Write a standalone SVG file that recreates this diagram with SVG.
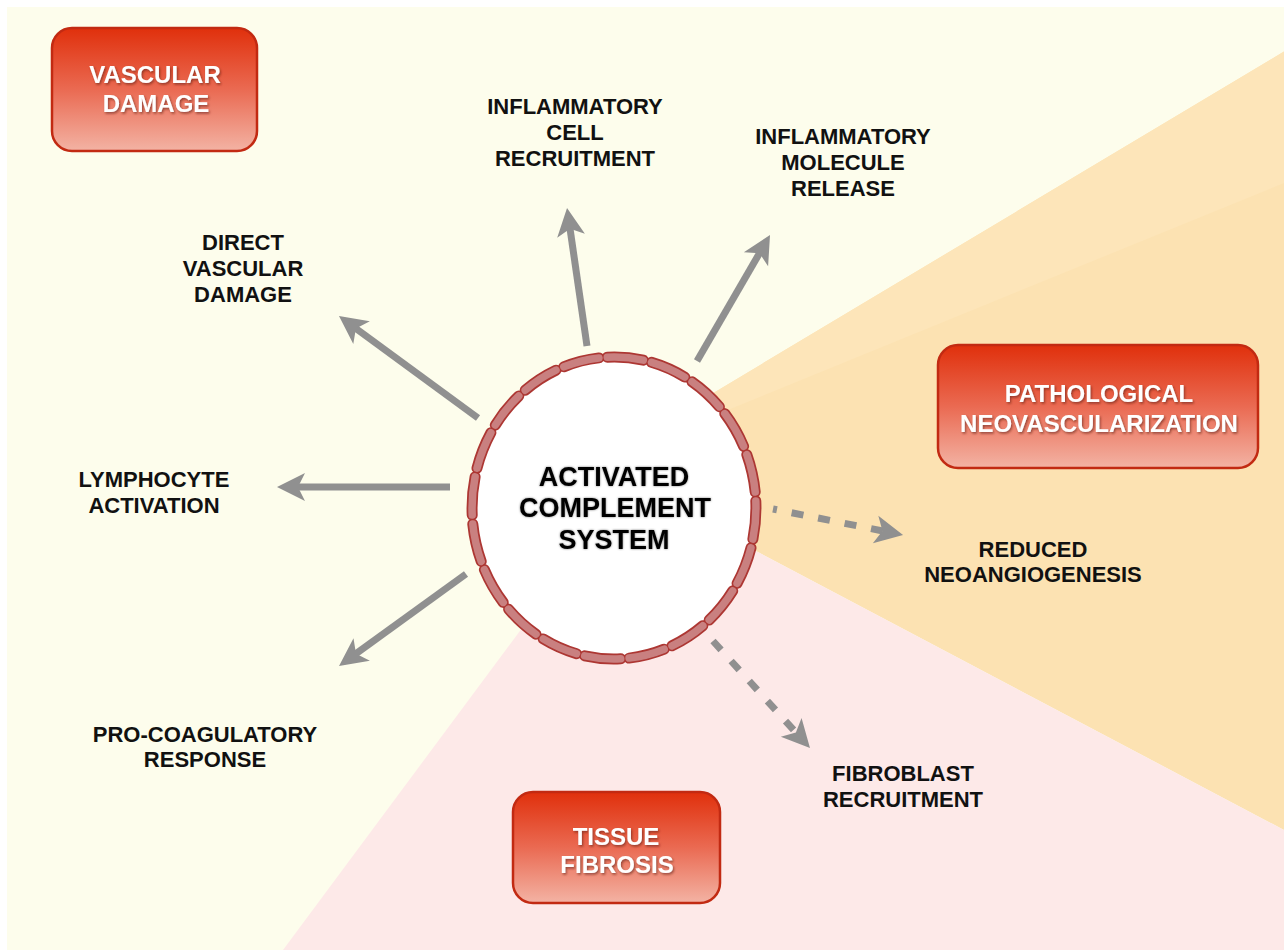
<svg xmlns="http://www.w3.org/2000/svg" width="1284" height="950" viewBox="0 0 1284 950">
<style>
.lbl{font-family:"Liberation Sans",Arial,sans-serif;font-weight:bold;font-size:22px;fill:#111;text-anchor:middle}
.box{stroke:#c22a12;stroke-width:2.5;fill:url(#boxg)}
.btxt{font-family:"Liberation Sans",Arial,sans-serif;font-weight:bold;font-size:24px;fill:#fff;text-anchor:middle;filter:url(#wshadow)}
.ctxt{font-family:"Liberation Sans",Arial,sans-serif;font-weight:bold;font-size:27px;fill:#000;text-anchor:middle;filter:url(#cglow)}
.arr{stroke:#909090;stroke-width:7;fill:none;marker-end:url(#ah)}
.dash{stroke-dasharray:12 15}
.ringo{fill:none;stroke:#ad3733;stroke-width:11;stroke-linecap:round}
.ringi{fill:none;stroke:#c98080;stroke-width:7.5;stroke-linecap:round}
</style>
<defs>
<linearGradient id="boxg" x1="0" y1="0" x2="0" y2="1">
<stop offset="0" stop-color="#e0300c"/>
<stop offset="0.5" stop-color="#ea6a52"/>
<stop offset="1" stop-color="#f3b3a4"/>
</linearGradient>
<filter id="wshadow" x="-10%" y="-30%" width="120%" height="160%">
<feDropShadow dx="1.2" dy="1.6" stdDeviation="0.9" flood-color="#5a1a10" flood-opacity="0.6"/>
</filter>
<filter id="cglow" x="-10%" y="-30%" width="120%" height="160%">
<feDropShadow dx="0" dy="0" stdDeviation="1.2" flood-color="#000" flood-opacity="0.5"/>
</filter>
<marker id="ah" markerUnits="userSpaceOnUse" viewBox="-12 -16 32 32" refX="0" refY="0" markerWidth="32" markerHeight="32" orient="auto">
<path d="M18,0 L-10,-14 L-3,0 L-10,14 Z" fill="#909090"/>
</marker>
<path id="ring" d="M607.3,357.2 A142 151 0 0 1 643.3,360.2 M651.5,362.3 A142 151 0 0 1 684.8,377.1 M692.0,381.8 A142 151 0 0 1 719.4,406.8 M724.8,413.6 A142 151 0 0 1 743.6,446.3 M746.8,454.6 A142 151 0 0 1 755.2,492.0 M755.8,500.9 A142 151 0 0 1 752.9,539.1 M751.0,547.8 A142 151 0 0 1 737.1,583.3 M732.7,590.9 A142 151 0 0 1 709.2,620.0 M702.8,625.8 A142 151 0 0 1 672.0,645.8 M664.2,649.2 A142 151 0 0 1 629.1,658.1 M620.7,658.8 A142 151 0 0 1 584.7,655.8 M576.5,653.7 A142 151 0 0 1 543.2,638.9 M536.0,634.2 A142 151 0 0 1 508.6,609.2 M503.2,602.4 A142 151 0 0 1 484.4,569.7 M481.2,561.4 A142 151 0 0 1 472.8,524.1 M472.2,515.1 A142 151 0 0 1 475.1,476.9 M477.0,468.2 A142 151 0 0 1 490.9,432.7 M495.3,425.1 A142 151 0 0 1 518.8,396.0 M525.2,390.2 A142 151 0 0 1 556.0,370.2 M563.8,366.8 A142 151 0 0 1 598.9,357.9"/>
</defs>

<g id="background">
<rect x="0" y="0" width="1284" height="950" fill="#ffffff"/>
<rect x="7" y="7" width="1277" height="943" fill="#fdfdec"/>
<polygon points="593,465 1284,51.5 1284,830" fill="#fce2b2"/>
<polygon points="593,465 1284,51.5 1284,183" fill="#fde5b9"/>
<polygon points="629,484 1284,830 1284,950 283,950" fill="#fde9e8"/>
</g>

<g id="connectors">
<line class="arr" x1="478" y1="418" x2="353.5" y2="326.7"/>
<line class="arr" x1="450" y1="487" x2="295" y2="487"/>
<line class="arr" x1="466" y1="574" x2="353.6" y2="655.4"/>
<line class="arr" x1="587" y1="346" x2="569.6" y2="225.8"/>
<line class="arr" x1="697" y1="361" x2="761" y2="250.6"/>
<line class="arr dash" x1="773" y1="509" x2="885.4" y2="531.5" stroke-dashoffset="8"/>
<line class="arr dash" x1="713" y1="641" x2="797.9" y2="734.7"/>
</g>

<g id="activated-complement-system">
<ellipse cx="614" cy="508" rx="142" ry="151" fill="#ffffff"/>
<use href="#ring" class="ringo"/>
<use href="#ring" class="ringi"/>
<text class="ctxt" x="614" y="486">ACTIVATED</text>
<text class="ctxt" x="615" y="517">COMPLEMENT</text>
<text class="ctxt" x="614" y="549">SYSTEM</text>
</g>

<g id="vascular-damage">
<rect class="box" x="52" y="28" width="205" height="123" rx="20"/>
<text class="btxt" x="155" y="83">VASCULAR</text>
<text class="btxt" x="156" y="112">DAMAGE</text>
</g>

<g id="pathological-neovascularization">
<rect class="box" x="938" y="345" width="320" height="123" rx="20"/>
<text class="btxt" x="1099" y="402">PATHOLOGICAL</text>
<text class="btxt" x="1099" y="432">NEOVASCULARIZATION</text>
</g>

<g id="tissue-fibrosis">
<rect class="box" x="513" y="792" width="207" height="111" rx="20"/>
<text class="btxt" x="616" y="845">TISSUE</text>
<text class="btxt" x="617" y="873">FIBROSIS</text>
</g>

<g id="inflammatory-cell-recruitment">
<text class="lbl" x="575" y="114">INFLAMMATORY</text>
<text class="lbl" x="575" y="140">CELL</text>
<text class="lbl" x="575" y="166">RECRUITMENT</text>
</g>

<g id="inflammatory-molecule-release">
<text class="lbl" x="843" y="144">INFLAMMATORY</text>
<text class="lbl" x="843" y="170">MOLECULE</text>
<text class="lbl" x="843" y="196">RELEASE</text>
</g>

<g id="direct-vascular-damage">
<text class="lbl" x="243" y="250">DIRECT</text>
<text class="lbl" x="243" y="276">VASCULAR</text>
<text class="lbl" x="243" y="302">DAMAGE</text>
</g>

<g id="lymphocyte-activation">
<text class="lbl" x="154" y="487">LYMPHOCYTE</text>
<text class="lbl" x="154" y="513">ACTIVATION</text>
</g>

<g id="pro-coagulatory-response">
<text class="lbl" x="205" y="742">PRO-COAGULATORY</text>
<text class="lbl" x="205" y="767">RESPONSE</text>
</g>

<g id="reduced-neoangiogenesis">
<text class="lbl" x="1033" y="557">REDUCED</text>
<text class="lbl" x="1033" y="582">NEOANGIOGENESIS</text>
</g>

<g id="fibroblast-recruitment">
<text class="lbl" x="903" y="781">FIBROBLAST</text>
<text class="lbl" x="903" y="807">RECRUITMENT</text>
</g>
</svg>
